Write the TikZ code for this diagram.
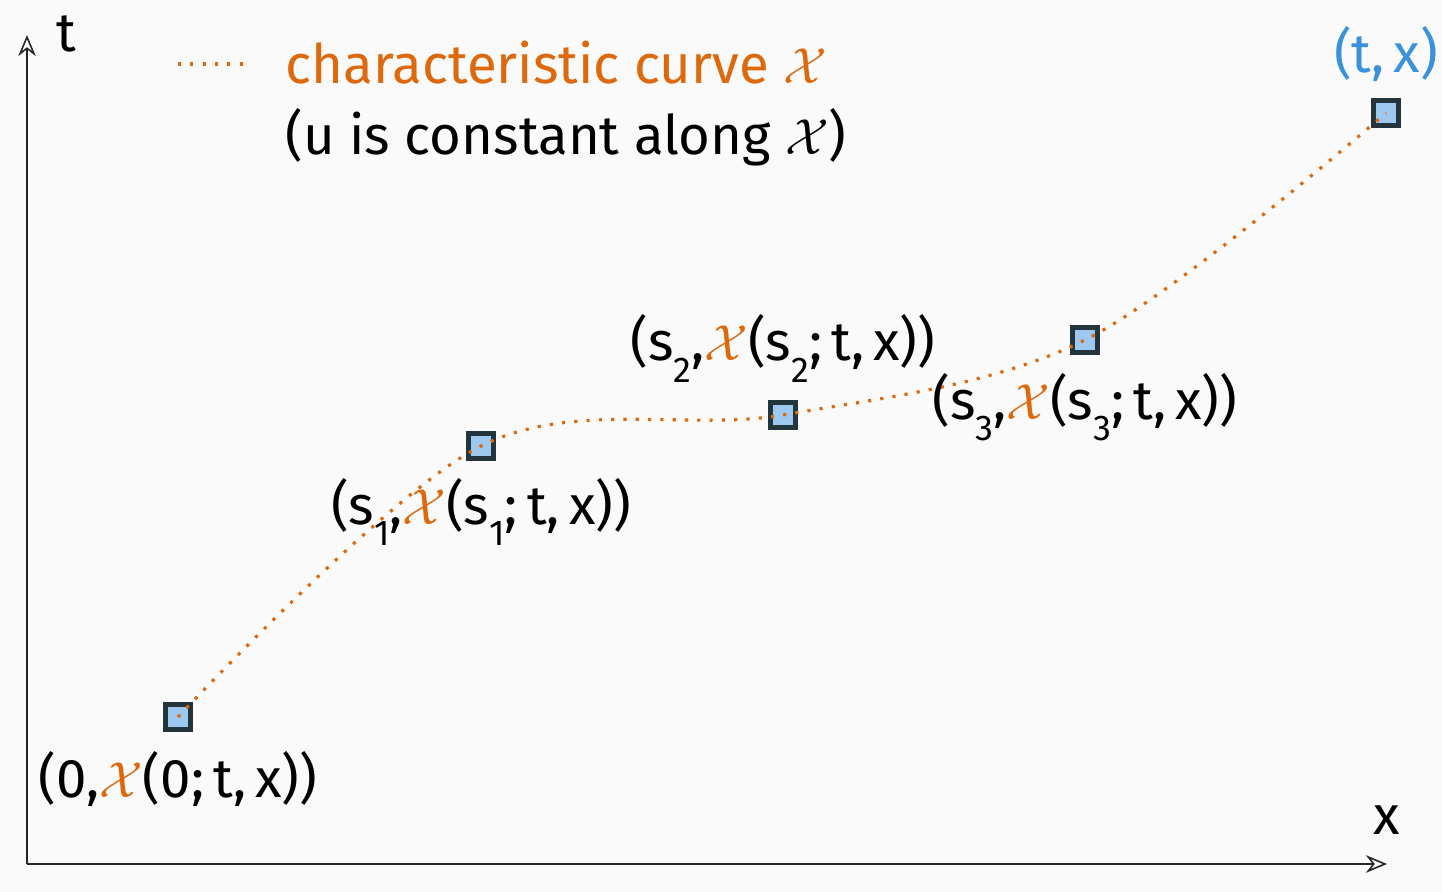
\documentclass[tikz,border=0pt]{standalone}
\usepackage{amsmath}
\usepackage{fontspec}
\setmainfont{Fira Sans}
\usetikzlibrary{arrows.meta, positioning}
\definecolor{charorange}{RGB}{222, 104, 12}
\definecolor{ptblue}{RGB}{58, 145, 220}
\definecolor{sqfill}{RGB}{157, 200, 240}
\definecolor{sqedge}{RGB}{35, 52, 60}
\definecolor{bgpaper}{RGB}{250, 250, 250}
\newcommand{\chr}{\textcolor{charorange}{$\mathcal{X}$}}
\newcommand{\ssub}[1]{s\raisebox{-0.4em}{\fontsize{10.2}{11}\selectfont #1}}
\tikzset{
  sqbox/.style={
    rectangle, draw=sqedge, fill=sqfill,
    line width=1.35pt, minimum size=0.255cm, inner sep=0pt
  },
  lbl/.style={
    font=\fontsize{15.5}{18}\selectfont, inner sep=0pt, text=black
  },
  arr/.style={-{Stealth[open, length=6pt, width=5pt]}, line width=0.45pt, color=black!85},
  curve/.style={color=charorange, line width=0.9pt, dash pattern=on 0.9pt off 2.6pt},
}

\begin{document}
\begin{tikzpicture}[x=0.01cm, y=-0.01cm]
    \fill[bgpaper] (0,0) rectangle (1442,892);
    \useasboundingbox (0,0) rectangle (1442,892);

    % axes
    \coordinate (o) at (27,864);
    \coordinate (xend) at (1387,864);
    \coordinate (tend) at (27,35);
    \draw[arr] (o)--(xend);
    \draw[arr] (o)--(tend);
    \node[lbl, anchor=base] (tlab) at (66,52) {t};
    \node[lbl, anchor=base] (xlab) at (1387,835) {x};

    % legend
    \coordinate (lg1) at (178,64);
    \coordinate (lg2) at (250,64);
    \draw[curve] (lg1)--(lg2);
    \node[lbl, anchor=base west, text=charorange] (lgtext) at (285,84) {characteristic curve $\mathcal{X}$};
    \node[lbl, anchor=base west] (lgnote) at (285,155) {(u is constant along $\mathcal{X}$)};

    % points on the curve
    \node[sqbox] (p0) at (178,717) {};
    \node[sqbox] (p1) at (481,446) {};
    \node[sqbox] (p2) at (783,415) {};
    \node[sqbox] (p3) at (1085,340) {};
    \node[sqbox] (p4) at (1386,113) {};

    \draw[curve] plot[smooth, tension=0.55] coordinates {(p0) (p1) (p2) (p3) (p4)};

    \node[lbl, below=0.65cm of p0, anchor=base] (l0) {(0,\chr(0;\,t,\,x))};
    \node[lbl, below=0.63cm of p1, anchor=base] (l1) {(\ssub{1},\chr(\ssub{1};\,t,\,x))};
    \node[lbl, above=0.39cm of p2, anchor=base] (l2) {(\ssub{2},\chr(\ssub{2};\,t,\,x))};
    \node[lbl, below=0.64cm of p3, anchor=base] (l3) {(\ssub{3},\chr(\ssub{3};\,t,\,x))};
    \node[lbl, above=0.25cm of p4, anchor=base, text=ptblue] (l4) {(t,\,x)};
  \end{tikzpicture}
\end{document}
